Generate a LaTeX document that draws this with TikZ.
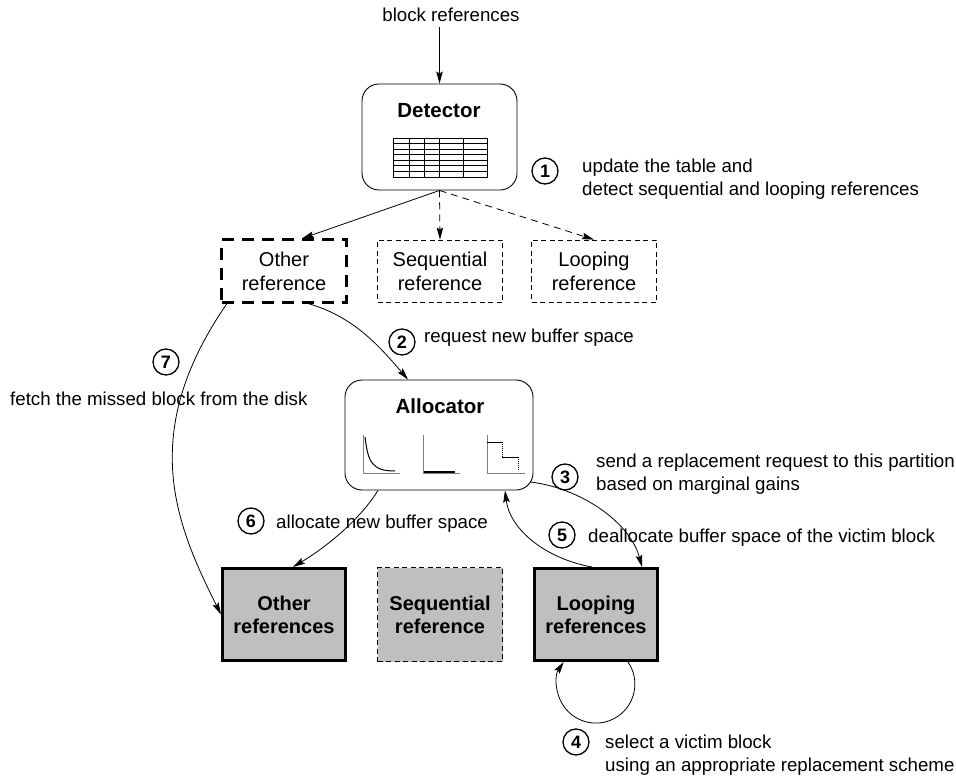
\documentclass[tikz,border=0pt]{standalone}
\usepackage{fontspec}
\setmainfont{Liberation Sans}
\usetikzlibrary{arrows.meta}
\definecolor{boxgray}{gray}{0.75}

\begin{document}
\begin{tikzpicture}[x=1pt,y=-1pt]
\tikzstyle{every node}+=[inner sep=0pt]
\tikzstyle{conn}=[-{Stealth[length=12pt,width=6.5pt,inset=2pt]},line width=0.8pt]
\tikzstyle{dconn}=[conn,dash pattern=on 7pt off 5pt]
\tikzstyle{note}=[anchor=west,align=left,font=\fontsize{18.7}{22.5}\selectfont]
\tikzstyle{num}=[circle,draw,line width=1.3pt,minimum size=26pt,font=\bfseries\fontsize{18}{18}\selectfont]
\tikzstyle{rbox}=[draw,rounded corners=17pt,line width=0.9pt]
\tikzstyle{title}=[font=\bfseries\fontsize{20.5}{24}\selectfont]
\tikzstyle{kindbox}=[draw,minimum width=125pt,minimum height=62pt,align=center,font=\fontsize{20}{24}\selectfont,dash pattern=on 5pt off 3.5pt,line width=0.8pt]
\tikzstyle{partbox}=[draw,fill=boxgray,minimum width=123pt,minimum height=92pt,align=center,font=\bfseries\fontsize{20}{23}\selectfont,line width=3pt]
\tikzstyle{axis}=[gray,line width=1pt]
\useasboundingbox (0,0) rectangle (956,778);
\node[font=\fontsize{18.7}{22.5}\selectfont,outer sep=5pt] (src) at (451,15) {block references};
\node[rbox,minimum width=155pt,minimum height=106pt] (det) at (439.5,137) {};
\node[title] (dettitle) at (439,111) {Detector};
\draw[line width=0.8pt] (393,138) rectangle (487,177);
\foreach \x in {409,424,439,463}
  \draw[line width=0.8pt] (\x,138) -- (\x,177);
\foreach \y in {143.6,149.1,154.7,160.3,165.9,171.4}
  \draw[line width=0.8pt] (393,\y) -- (487,\y);
\draw[conn] (det.north |- src.south) -- (det.north);
\node[num] (n1) at (545,171) {1};
\node[note] (t1) at (582,179) {update the table and\\detect sequential and looping references};
\node[kindbox,line width=3pt,dash pattern=on 12pt off 8pt] (oref) at (284,271) {Other\\reference};
\node[kindbox] (sref) at (440,271) {Sequential\\reference};
\node[kindbox] (lref) at (594,271) {Looping\\reference};
\draw[conn] (det.south) -- ([xshift=18pt]oref.north);
\draw[dconn] (det.south) -- (sref.north);
\draw[dconn] (det.south) -- (lref.north);
\node[rbox,minimum width=188pt,minimum height=110pt] (alloc) at (439,435) {};
\node[title] (alloctitle) at (440,406.5) {Allocator};
\draw[axis] (363,435) -- (363,473) -- (400,473);
\draw[line width=1pt] (365,437) .. controls (368,462) and (372,471) .. (395,471);
\draw[axis] (423,435) -- (423,473) -- (460,473);
\draw[line width=1.1pt] (424,472) -- (455,472);
\draw[axis] (487,435) -- (487,473) -- (525,473);
\draw[line width=1pt] (487,442) -- (502,442);
\draw[line width=1pt,densely dotted] (502,442) -- (502,457);
\draw[line width=1pt] (502,457) -- (518,457);
\draw[line width=1pt,densely dotted] (518,457) -- (518,470);
\node[partbox] (ob) at (284,614.5) {Other\\references};
\node[partbox,line width=0.8pt,minimum width=125pt,minimum height=94pt,dash pattern=on 5pt off 3.5pt] (sb) at (440,614.5) {Sequential\\reference};
\node[partbox] (lb) at (596,614.5) {Looping\\references};
\node[num] (n2) at (402,342) {2};
\node[note] (t2) at (424,338) {request new buffer space};
\node[num] (n7) at (166,362) {7};
\node[note] (t7) at (10,399) {fetch the missed block from the disk};
\node[num] (n3) at (565,477) {3};
\node[note] (t3) at (596,474) {send a replacement request to this partition\\based on marginal gains};
\node[num] (n5) at (562,535) {5};
\node[note] (t5) at (588,538) {deallocate buffer space of the victim block};
\node[num] (n6) at (251,521) {6};
\node[note] (t6) at (276,524) {allocate new buffer space};
\node[num] (n4) at (576,742) {4};
\node[note] (t4) at (605,755) {select a victim block\\using an appropriate replacement scheme};
\draw[conn] ([xshift=24pt]oref.south) .. controls +(45,13) and +(-30,-35) .. ([xshift=-31pt]alloc.north);
\draw[conn] ([xshift=7pt]oref.south west) .. controls +(-90,130) and +(-45,-90) .. (ob.west);
\draw[conn] ([xshift=-61pt]alloc.south) .. controls +(-20,32) and +(30,-18) .. ([xshift=9pt]ob.north);
\draw[conn] ([xshift=-3pt,yshift=-47pt]alloc.east) .. controls +(50,6) and +(-12,-45) .. ([xshift=46pt]lb.north);
\draw[conn] ([xshift=-4pt]lb.north) .. controls +(-45,-8) and +(5,40) .. ([xshift=66pt]alloc.south);
\draw[conn] ([xshift=32pt]lb.south) arc[start angle=-34.5,end angle=214.5,radius=39];
\end{tikzpicture}
\end{document}
